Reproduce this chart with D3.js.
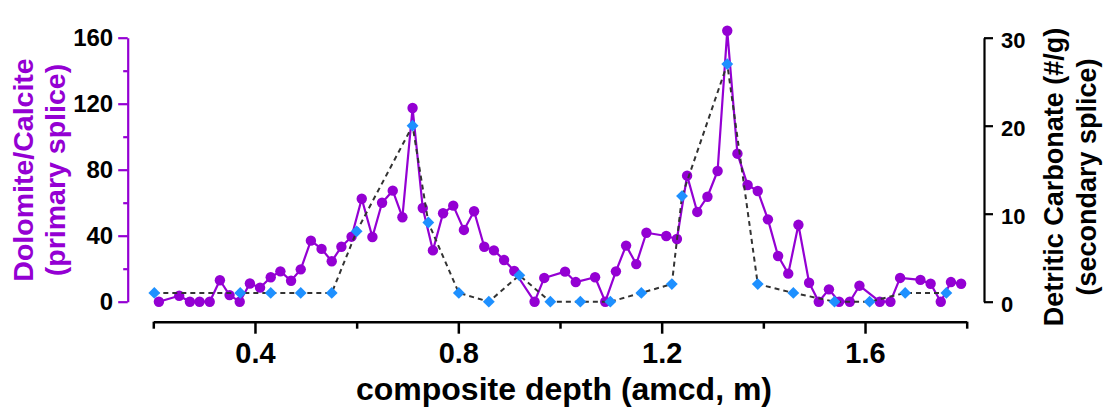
<!DOCTYPE html>
<html>
<head>
<meta charset="utf-8">
<script src="https://cdn.jsdelivr.net/npm/d3@7.9.0/dist/d3.min.js"></script>
<style>
  body { margin: 0; background: #fff; }
  svg { display: block; font-family: "Liberation Sans", Arial, sans-serif; font-weight: bold; }
</style>
</head>
<body>
<svg width="1105" height="408"></svg>
<script>
// primary splice: dolomite/calcite ratio
const primaryDepth = [0.211, 0.251, 0.272, 0.291, 0.311, 0.331, 0.350, 0.370, 0.390, 0.410,
  0.431, 0.450, 0.471, 0.490, 0.510, 0.531, 0.551, 0.570, 0.590, 0.610,
  0.631, 0.650, 0.671, 0.690, 0.710, 0.730, 0.750, 0.770, 0.790, 0.811,
  0.831, 0.851, 0.870, 0.890, 0.910, 0.950, 0.969, 1.010, 1.031, 1.069,
  1.089, 1.110, 1.130, 1.150, 1.170, 1.209, 1.230, 1.250, 1.270, 1.290,
  1.310, 1.329, 1.349, 1.369, 1.389, 1.409, 1.429, 1.449, 1.469, 1.490,
  1.509, 1.529, 1.549, 1.570, 1.589, 1.629, 1.650, 1.669, 1.709, 1.729,
  1.749, 1.769, 1.789];
const primaryRatio = [0, 3.6, 0, 0, 0, 13, 4, 0, 11, 8.5,
  14.8, 18.4, 12.7, 19.6, 37, 32, 24.5, 33.3, 39.4, 62.4,
  39.2, 60, 67.3, 51.2, 117.4, 56.8, 31.1, 53.6, 58.2, 43.5,
  54.8, 33.3, 31.1, 25.3, 18.6, 0, 14.4, 18.2, 11.9, 14.8,
  0, 18.4, 34, 22.8, 41.8, 39.8, 38, 76.4, 54.4, 63.6,
  79.2, 164.2, 89.7, 70.7, 67.1, 49.9, 27.7, 17, 46.6, 11.5,
  0, 7.5, 0, 0, 9.7, 0, 0, 14.4, 13.2, 10.9,
  0, 11.9, 10.9];

// secondary splice: detrital carbonate grains
const secondaryDepth = [0.202, 0.371, 0.431, 0.490, 0.551, 0.600, 0.710, 0.741, 0.801, 0.860,
  0.920, 0.981, 1.040, 1.099, 1.160, 1.220, 1.240, 1.329, 1.389, 1.459,
  1.540, 1.609, 1.679, 1.760];
const secondaryCount = [1, 1, 1, 1, 1, 8, 20, 9, 1, 0,
  3, 0, 0, 0, 1, 2, 12, 27, 2, 1,
  0, 0, 1, 1];

const xMajor = [0.4, 0.8, 1.2, 1.6];
const xMinor = [0.2, 0.6, 1.0, 1.4, 1.8];
const leftMajor = [0, 40, 80, 120, 160];
const leftMinor = [20, 60, 100, 140];
const rightTicks = [0, 10, 20, 30];

const purple = "#9400d3";
const blue = "#1e90ff";

const svg = d3.select("svg");

const x = d3.scaleLinear().domain([0.2, 1.8]).range([153.3, 966.7]);
const yL = d3.scaleLinear().domain([0, 160]).range([301.7, 37.7]);
const yR = d3.scaleLinear().domain([0, 30]).range([301.7, 37.7]);

const primary = primaryDepth.map((d, i) => ({ d, v: primaryRatio[i] }));
const secondary = secondaryDepth.map((d, i) => ({ d, v: secondaryCount[i] }));

// x axis
const xg = svg.append("g").attr("transform", "translate(0,321.7)");
xg.call(d3.axisBottom(x).tickValues(xMajor).tickSize(12).tickSizeOuter(0)
  .tickPadding(9).tickFormat(d3.format(".1f")));
xg.append("g").call(d3.axisBottom(x).tickValues(xMinor).tickSize(7).tickFormat(""))
  .select(".domain").remove();
xg.selectAll("path, line").attr("stroke", "#000").attr("stroke-width", 2.5);
xg.selectAll("text").attr("font-size", 29).attr("fill", "#000")
  .attr("font-family", "Liberation Sans, Arial, sans-serif").attr("font-weight", "bold");

svg.append("text")
  .attr("x", 564)
  .attr("y", 400)
  .attr("text-anchor", "middle")
  .attr("font-size", 32)
  .text("composite depth (amcd, m)");

// left axis
const lg = svg.append("g").attr("transform", "translate(127.7,0)");
lg.call(d3.axisLeft(yL).tickValues(leftMajor).tickSize(9.5).tickSizeOuter(0).tickPadding(5));
lg.append("g").call(d3.axisLeft(yL).tickValues(leftMinor).tickSize(4.5).tickFormat(""))
  .select(".domain").remove();
lg.selectAll("path, line").attr("stroke", purple).attr("stroke-width", 2.2);
lg.selectAll("text").attr("font-size", 24).attr("fill", "#000")
  .attr("font-family", "Liberation Sans, Arial, sans-serif").attr("font-weight", "bold");

const leftTitle = svg.append("text")
  .attr("transform", "translate(33,170) rotate(-90)")
  .attr("text-anchor", "middle")
  .attr("font-size", 28.5)
  .attr("fill", purple);
leftTitle.append("tspan").attr("x", 0).attr("y", 0).text("Dolomite/Calcite");
leftTitle.append("tspan").attr("x", 0).attr("y", 32).text("(primary splice)");

// right axis
const rg = svg.append("g").attr("transform", "translate(984,0)");
rg.call(d3.axisRight(yR).tickValues(rightTicks).tickSize(9).tickSizeOuter(0).tickPadding(8));
rg.selectAll("path, line").attr("stroke", "#000").attr("stroke-width", 2.2);
rg.selectAll("text").attr("font-size", 22).attr("fill", "#000").attr("dy", "0.45em")
  .attr("font-family", "Liberation Sans, Arial, sans-serif").attr("font-weight", "bold");

const rightTitle = svg.append("text")
  .attr("transform", "translate(1063,177) rotate(-90)")
  .attr("text-anchor", "middle")
  .attr("font-size", 27)
  .attr("fill", "#000");
rightTitle.append("tspan").attr("x", 0).attr("y", 0).text("Detritic Carbonate (#/g)");
rightTitle.append("tspan").attr("x", 0).attr("y", 33).text("(secondary splice)");

// primary series
svg.append("path")
  .datum(primary)
  .attr("fill", "none")
  .attr("stroke", purple)
  .attr("stroke-width", 2.2)
  .attr("stroke-linejoin", "round")
  .attr("d", d3.line().x((p) => x(p.d)).y((p) => yL(p.v)));

svg.append("g")
  .selectAll("circle")
  .data(primary)
  .join("circle")
  .attr("cx", (p) => x(p.d))
  .attr("cy", (p) => yL(p.v))
  .attr("r", 5.2)
  .attr("fill", purple);

// secondary series
svg.append("path")
  .datum(secondary)
  .attr("fill", "none")
  .attr("stroke", "#333")
  .attr("stroke-width", 2)
  .attr("stroke-dasharray", "5,4")
  .attr("d", d3.line().x((p) => x(p.d)).y((p) => yR(p.v)));

svg.append("g")
  .selectAll("path")
  .data(secondary)
  .join("path")
  .attr("d", d3.symbol(d3.symbolSquare, 70))
  .attr("transform", (p) => `translate(${x(p.d)},${yR(p.v)}) rotate(45)`)
  .attr("fill", blue);
</script>
</body>
</html>
